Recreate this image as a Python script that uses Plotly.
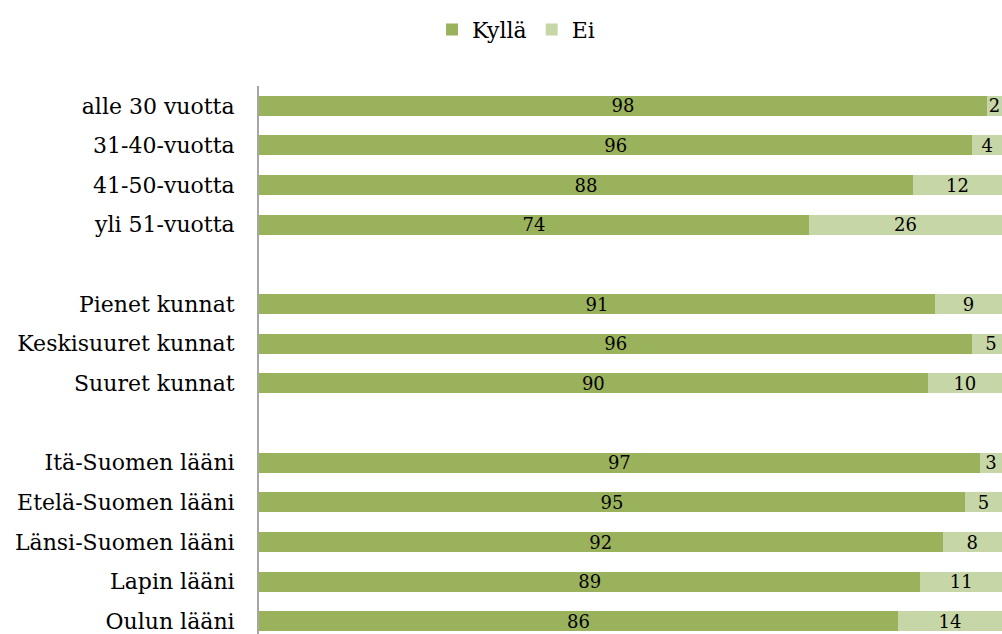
import plotly.graph_objects as go

categories = ["alle 30 vuotta", "31-40-vuotta", "41-50-vuotta", "yli 51-vuotta", " ",
              "Pienet kunnat", "Keskisuuret kunnat", "Suuret kunnat", "  ",
              "Itä-Suomen lääni", "Etelä-Suomen lääni", "Länsi-Suomen lääni",
              "Lapin lääni", "Oulun lääni"]
kylla = [98, 96, 88, 74, None, 91, 96, 90, None, 97, 95, 92, 89, 86]
ei = [2, 4, 12, 26, None, 9, 5, 10, None, 3, 5, 8, 11, 14]

FONT = "DejaVu Serif"
C_KYLLA = "#9BB25D"
C_EI = "#C6D6A6"


def labels(vals):
    return [("" if v is None else str(v)) for v in vals]


fig = go.Figure()
for name, vals, col in (("Kyllä", kylla, C_KYLLA), ("Ei", ei, C_EI)):
    fig.add_trace(go.Bar(y=categories, x=vals, name=name, orientation="h",
                         marker=dict(color=col, line=dict(width=0)),
                         text=labels(vals),
                         textposition="inside", insidetextanchor="middle",
                         textangle=0, constraintext="none",
                         textfont=dict(family=FONT, size=18, color="black"),
                         hoverinfo="x+y"))

fig.update_layout(
    width=1002, height=634,
    barmode="stack", bargap=0.495,
    margin=dict(l=259, r=0, t=86, b=0, pad=0),
    paper_bgcolor="white", plot_bgcolor="white",
    font=dict(family=FONT, size=22, color="black"),
    uniformtext=dict(minsize=18, mode="show"),
    showlegend=True,
    legend=dict(orientation="h", xref="container", x=0.515, xanchor="center",
                yref="container", y=0.953, yanchor="middle",
                font=dict(family=FONT, size=22, color="black"),
                itemwidth=30, traceorder="normal"),
    xaxis=dict(range=[0, 100], visible=False, fixedrange=True),
    yaxis=dict(type="category", categoryorder="array", categoryarray=categories,
               range=[13.32, -0.5], autorange=False,
               showline=True, linecolor="#A6A6A6", linewidth=2,
               showgrid=False, zeroline=False, ticks="",
               ticklabelstandoff=18,
               tickfont=dict(family=FONT, size=22, color="black")),
)

fig.write_html("out.html",
               config={"displayModeBar": False},
               post_script="document.body.style.margin='0';document.body.style.overflow='hidden';")
